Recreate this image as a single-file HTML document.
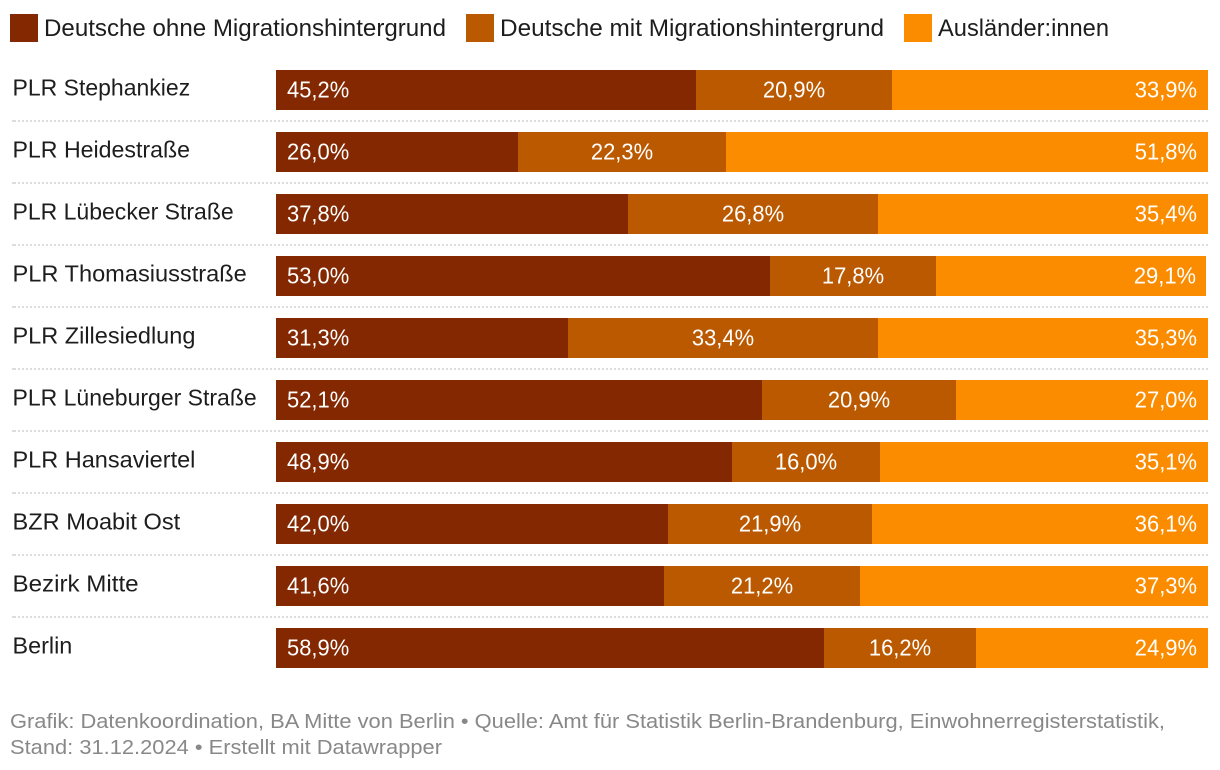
<!DOCTYPE html>
<html lang="de">
<head>
<meta charset="utf-8">
<title>Bevölkerung nach Migrationshintergrund</title>
<style>
  html, body { margin: 0; padding: 0; background: #fff; }
  body { width: 1220px; height: 770px; overflow: hidden; }
  svg { display: block; font-family: "Liberation Sans", Arial, sans-serif; }
  .lg { font-size: 24px; fill: #1d1d1d; }
  .cat { font-size: 23px; fill: #1d1d1d; }
  .val { font-size: 23px; fill: #fff; }
  .foot { font-size: 20.5px; fill: #888; }
</style>
</head>
<body>
<svg id="chart" width="1220" height="770" viewBox="0 0 1220 770" xmlns="http://www.w3.org/2000/svg">
  <g>
    <g>
      <rect x="10" y="14" width="28" height="28" fill="#832800"/>
      <text class="lg" x="44" y="36" textLength="402" lengthAdjust="spacingAndGlyphs">Deutsche ohne Migrationshintergrund</text>
    </g>
    <g>
      <rect x="466" y="14" width="28" height="28" fill="#bb5900"/>
      <text class="lg" x="500" y="36" textLength="384" lengthAdjust="spacingAndGlyphs">Deutsche mit Migrationshintergrund</text>
    </g>
    <g>
      <rect x="904" y="14" width="28" height="28" fill="#fb8c00"/>
      <text class="lg" x="938" y="36" textLength="171" lengthAdjust="spacingAndGlyphs">Ausländer:innen</text>
    </g>
  </g>
  <g id="rows"></g>
  <g>
    <text class="foot" x="10" y="728" textLength="1155" lengthAdjust="spacingAndGlyphs">Grafik: Datenkoordination, BA Mitte von Berlin • Quelle: Amt für Statistik Berlin-Brandenburg, Einwohnerregisterstatistik,</text>
    <text class="foot" x="10" y="754" textLength="432" lengthAdjust="spacingAndGlyphs">Stand: 31.12.2024 • Erstellt mit Datawrapper</text>
  </g>
</svg>
<script>
const categories = ["PLR Stephankiez", "PLR Heidestraße", "PLR Lübecker Straße", "PLR Thomasiusstraße", "PLR Zillesiedlung", "PLR Lüneburger Straße", "PLR Hansaviertel", "BZR Moabit Ost", "Bezirk Mitte", "Berlin"];
const ohneMigration = [45.2, 26.0, 37.8, 53.0, 31.3, 52.1, 48.9, 42.0, 41.6, 58.9];
const mitMigration = [20.9, 22.3, 26.8, 17.8, 33.4, 20.9, 16.0, 21.9, 21.2, 16.2];
const auslaender = [33.9, 51.8, 35.4, 29.1, 35.3, 27.0, 35.1, 36.1, 37.3, 24.9];

const NS = 'http://www.w3.org/2000/svg';
const rowsGroup = document.getElementById('rows');
const plotLeft = 276, plotRight = 1208, firstBarTop = 70, rowStep = 62, barHeight = 40;
const valueWidthRatio = 0.954;
const categoryFit = {
  "PLR Stephankiez": 1,
  "PLR Heidestraße": 1.006,
  "PLR Lübecker Straße": 1,
  "PLR Thomasiusstraße": 1.026,
  "PLR Zillesiedlung": 1.022,
  "PLR Lüneburger Straße": 1,
  "PLR Hansaviertel": 1.022,
  "BZR Moabit Ost": 1.025,
  "Bezirk Mitte": 1.05,
  "Berlin": 1.017
};

function rawX(v) {
  return Math.min(plotRight, plotLeft + v * (plotRight - plotLeft) / 100);
}
function xScale(v) {
  return Math.round((rawX(v) - 0.4) / 2) * 2;
}
function rowTop(i) {
  return firstBarTop + i * rowStep;
}
function formatValue(v) {
  return v.toFixed(1).replace('.', ',') + '%';
}
function make(tag, attrs) {
  const el = document.createElementNS(NS, tag);
  Object.keys(attrs).forEach(function (k) { el.setAttribute(k, attrs[k]); });
  return el;
}
function fitText(el, ratio) {
  const w = el.getComputedTextLength();
  el.setAttribute('textLength', (w * ratio).toFixed(1));
  el.setAttribute('lengthAdjust', 'spacingAndGlyphs');
}
function drawSegment(group, i, start, value, color, align, key) {
  const x0 = xScale(start);
  const x1 = xScale(start + value);
  const bar = make('rect', { x: x0, y: rowTop(i), width: Math.max(0, x1 - x0), height: barHeight, fill: color });
  
  
  group.appendChild(bar);

  let tx = (x0 + x1) / 2;
  let anchor = 'middle';
  if (align === 'start') { tx = x0 + 11; anchor = 'start'; }
  if (align === 'end') { tx = rawX(start + value) - 11; anchor = 'end'; }
  const label = make('text', { x: tx, y: rowTop(i) + 27.5, 'text-anchor': anchor, 'class': 'val' });
  
  
  label.textContent = formatValue(value);
  group.appendChild(label);
  fitText(label, valueWidthRatio);
}

categories.forEach(function (name, i) {
  const row = make('g', {});
  
  
  rowsGroup.appendChild(row);

  const cat = make('text', { x: 12.5, y: rowTop(i) + 25.5, 'class': 'cat' });
  
  
  cat.textContent = name;
  row.appendChild(cat);
  fitText(cat, categoryFit[name] || 1);

  drawSegment(row, i, 0, ohneMigration[i], '#832800', 'start', 'ohne-migrationshintergrund');
  drawSegment(row, i, ohneMigration[i], mitMigration[i], '#bb5900', 'middle', 'mit-migrationshintergrund');
  drawSegment(row, i, ohneMigration[i] + mitMigration[i], auslaender[i], '#fb8c00', 'end', 'auslaender');

  if (i < categories.length - 1) {
    const y = rowTop(i) + 51;
    const sepStub = make('line', { x1: 12, x2: 14, y1: y, y2: y, stroke: '#dddddd', 'stroke-width': 2 });
    
    
    row.appendChild(sepStub);
    const sep = make('line', { x1: 14, x2: plotRight, y1: y, y2: y, stroke: '#dddddd', 'stroke-width': 2, 'stroke-dasharray': '2 2' });
    
    
    row.appendChild(sep);
  }
});
</script>
</body>
</html>
